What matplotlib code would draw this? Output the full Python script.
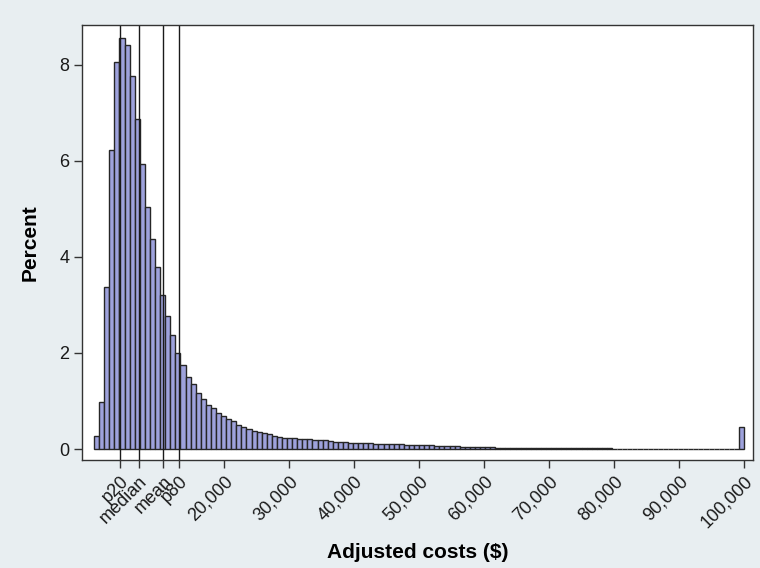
import matplotlib
matplotlib.use('Agg')
import matplotlib.pyplot as plt
import numpy as np

plt.rcParams.update({
    'font.family': ['Liberation Sans', 'DejaVu Sans'],
    'font.size': 10,
})

# --- Data: percent of cases per $781.25 bin, 0 to 100,000 (128 bins) ---
bin_start = 0
bin_stop = 100000
n_bins = 128
pct = [
    0.27, 0.98, 3.37, 6.22, 8.05, 8.56, 8.41, 7.76, 6.87, 5.94,
    5.05, 4.38, 3.79, 3.20, 2.77, 2.37, 2.00, 1.75, 1.50, 1.36,
    1.16, 1.05, 0.91, 0.86, 0.76, 0.69, 0.62, 0.58, 0.50, 0.45,
    0.41, 0.38, 0.36, 0.34, 0.31, 0.28, 0.25, 0.24, 0.24, 0.23,
    0.21, 0.20, 0.20, 0.19, 0.19, 0.18, 0.16, 0.15, 0.14, 0.14,
    0.13, 0.13, 0.12, 0.12, 0.12, 0.11, 0.11, 0.11, 0.10, 0.10,
    0.10, 0.09, 0.09, 0.09, 0.08, 0.08, 0.08, 0.07, 0.07, 0.07,
    0.06, 0.06, 0.05, 0.05, 0.05, 0.04, 0.04, 0.04, 0.04, 0.03,
    0.03, 0.03, 0.03, 0.03, 0.03, 0.02, 0.02, 0.02, 0.02, 0.02,
    0.02, 0.02, 0.02, 0.02, 0.02, 0.02, 0.02, 0.02, 0.02, 0.02,
    0.02, 0.02, 0.01, 0.01, 0.01, 0.01, 0.01, 0.01, 0.01, 0.01,
    0.01, 0.01, 0.01, 0.01, 0.01, 0.01, 0.01, 0.01, 0.01, 0.01,
    0.01, 0.01, 0.01, 0.01, 0.01, 0.01, 0.01, 0.45,
]

# summary statistics marked with vertical lines
stat_names = ['p20', 'median', 'mean', 'p80']
stat_values = [4000, 6900, 10660, 13080]

cost_ticks = [20000, 30000, 40000, 50000, 60000, 70000, 80000, 90000, 100000]

edges = np.linspace(bin_start, bin_stop, n_bins + 1)
width = edges[1] - edges[0]

fig = plt.figure(figsize=(7.6, 5.68), dpi=100, facecolor='#e8eef1')
ax = fig.add_axes([0.108, 0.190, 0.883, 0.766])
ax.set_facecolor('white')

ax.bar(edges[:-1], pct, width=width, align='edge', color='#9ea2dc',
       edgecolor='#262626', linewidth=1.0)

for v in stat_values:
    ax.axvline(v, color='#1a1a1a', linewidth=1.0)

ax.set_xlim(-1850, 101400)
ax.set_ylim(-0.23, 8.83)

ax.set_yticks([0, 2, 4, 6, 8])
ax.set_yticklabels(['0', '2', '4', '6', '8'], fontsize=13)

xt = stat_values + cost_ticks
xl = stat_names + [f'{v:,}' for v in cost_ticks]
ax.set_xticks(xt)
ax.set_xticklabels(xl, fontsize=13, rotation=45, ha='right',
                   rotation_mode='anchor')

ax.tick_params(axis='both', direction='out', length=6, width=1.0,
               color='#333333', labelcolor='#1a1a1a')
ax.tick_params(axis='x', pad=3)
ax.tick_params(axis='y', pad=3)

for s in ax.spines.values():
    s.set_color('#333333')
    s.set_linewidth(1.0)

ax.set_ylabel('Percent', fontsize=15, fontweight='bold', labelpad=14)
ax.set_xlabel('Adjusted costs ($)', fontsize=15, fontweight='bold', labelpad=9)

fig.savefig('out.png', dpi=100, facecolor=fig.get_facecolor())
